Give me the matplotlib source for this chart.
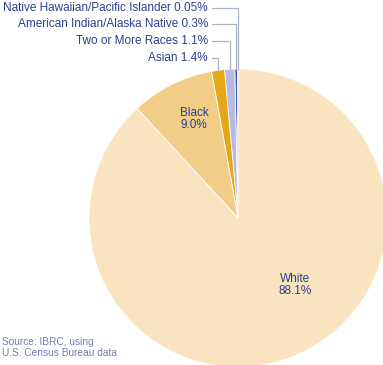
import matplotlib
matplotlib.use("Agg")
import matplotlib.pyplot as plt
import numpy as np

categories = ["Native Hawaiian/Pacific Islander", "American Indian/Alaska Native",
              "Two or More Races", "Asian", "Black", "White"]
values = [0.05, 0.3, 1.1, 1.4, 9.0, 88.1]
value_labels = ["0.05%", "0.3%", "1.1%", "1.4%", "9.0%", "88.1%"]
colors = ["#1F3C99", "#3A56B8", "#B7BBE0", "#E5A618", "#F2CD87", "#FAE3BF"]

W, H = 383, 365
fig = plt.figure(figsize=(W / 100, H / 100), dpi=100)
ax = fig.add_axes([0, 0, 1, 1])

cx, cy_px, r = 238, 218, 149
cy = H - cy_px
wedges, _ = ax.pie(values, colors=colors, startangle=90, counterclock=True,
                   center=(cx, cy), radius=r, frame=True,
                   wedgeprops=dict(edgecolor="white", linewidth=0.6))
ax.set_xlim(0, W)
ax.set_ylim(0, H)
ax.set_aspect("equal")
ax.axis("off")

font = "Liberation Sans"
tcol = "#2B3F8F"
lcol = "#A9B3C8"
fs = 8.5

# outside labels for small slices
label_y_px = [8, 24, 41, 58]
total = sum(values)
cum = 0
for i in range(4):
    frac_mid = (cum + values[i] / 2) / total
    cum += values[i]
    ang = np.deg2rad(90 + 360 * frac_mid)
    tx = cx + r * np.cos(ang)
    ty = cy + r * np.sin(ang)
    y = H - label_y_px[i]
    ax.text(208, y, f"{categories[i]} {value_labels[i]}", ha="right", va="center",
            fontsize=fs, family=font, color=tcol)
    ax.plot([212, tx, tx], [y, y, ty], color=lcol, lw=0.9, solid_joinstyle="miter")

# inside labels
ax.text(194, H - 119, f"{categories[4]}\n{value_labels[4]}", ha="center", va="center",
        fontsize=fs, family=font, color=tcol, linespacing=1.05)
ax.text(295, H - 285, f"{categories[5]}\n{value_labels[5]}", ha="center", va="center",
        fontsize=fs, family=font, color=tcol, linespacing=1.05)

ax.text(2, H - 337, "Source: IBRC, using\nU.S. Census Bureau data", ha="left", va="top",
        fontsize=7.3, family=font, color="#6F7FB5", linespacing=1.15)

fig.savefig("out.png", dpi=100)
